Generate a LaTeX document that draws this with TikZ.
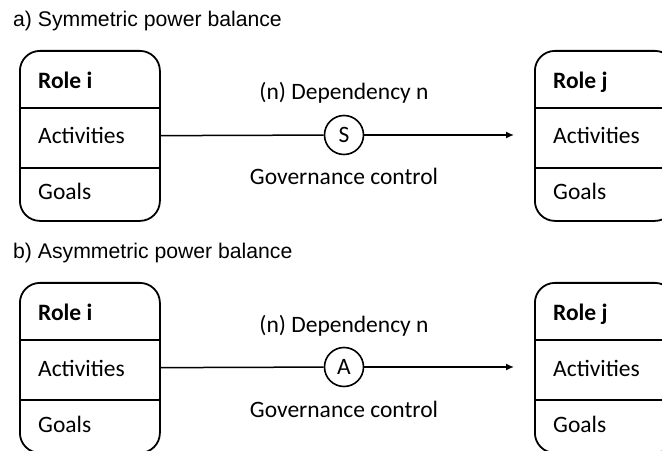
\documentclass[tikz,border=0pt]{standalone}
\usepackage{fontspec}
\setmainfont{Carlito}
\newfontfamily\titlefont{Liberation Sans}
\usetikzlibrary{arrows.meta}
\begin{document}
\begin{tikzpicture}[x=1bp,y=-1bp,
  rolebox/.style={draw,line width=1.8bp,rounded corners=20bp,minimum width=140bp,
    minimum height=170bp,inner sep=0pt,anchor=north west},
  divider/.style={line width=1.6bp},
  boxtext/.style={anchor=base west,inner sep=0pt,font=\fontsize{23.5bp}{28bp}\selectfont},
  labeltext/.style={anchor=base,inner sep=0pt,font=\fontsize{23.5bp}{28bp}\selectfont},
  ctrl/.style={draw,circle,line width=1.6bp,minimum size=39bp,inner sep=0pt,
    font=\fontsize{23.5bp}{28bp}\selectfont},
  conn/.style={line width=1.5bp},
  tip/.style={-{Latex[length=8bp,width=7bp]}},
  titletext/.style={anchor=base west,inner sep=0pt,font=\titlefont\fontsize{21.2bp}{25bp}\selectfont}]
\clip (0,0) rectangle (662,451);
\foreach \p/\oy/\ttl/\lt in {a/0/{a) Symmetric power balance}/S,
                             b/232/{b) Asymmetric power balance}/A}{
  % panel heading
  \node[titletext] (\p-title) at (13,27+\oy) {\ttl};
  % role boxes with their compartments
  \node[rolebox] (\p-ri) at (19,50+\oy) {};
  \node[rolebox] (\p-rj) at (534,50+\oy) {};
  \draw[divider] (19,108+\oy) -- (159,108+\oy) (19,168+\oy) -- (159,168+\oy);
  \draw[divider] (534,108+\oy) -- (674,108+\oy) (534,168+\oy) -- (674,168+\oy);
  \node[boxtext] (\p-ri-name) at (38,89+\oy) {\bfseries Role i};
  \node[boxtext] (\p-ri-act) at (38,144+\oy) {Activities};
  \node[boxtext] (\p-ri-goal) at (38,200+\oy) {Goals};
  \node[boxtext] (\p-rj-name) at (553,89+\oy) {\bfseries Role j};
  \node[boxtext] (\p-rj-act) at (553,144+\oy) {Activities};
  \node[boxtext] (\p-rj-goal) at (553,200+\oy) {Goals};
  % dependency with its governance control
  \node[labeltext] (\p-dep) at (344,100+\oy) {(n) Dependency n};
  \node[labeltext] (\p-gov) at (344,185+\oy) {Governance control};
  \node[ctrl] (\p-c) at (344,135+\oy) {\lt};
  \coordinate (\p-end) at (514,135+\oy);
  \draw[conn] (\p-ri) -- (\p-c);
  \draw[conn,tip] (\p-c) -- (\p-end);
}
\end{tikzpicture}
\end{document}
